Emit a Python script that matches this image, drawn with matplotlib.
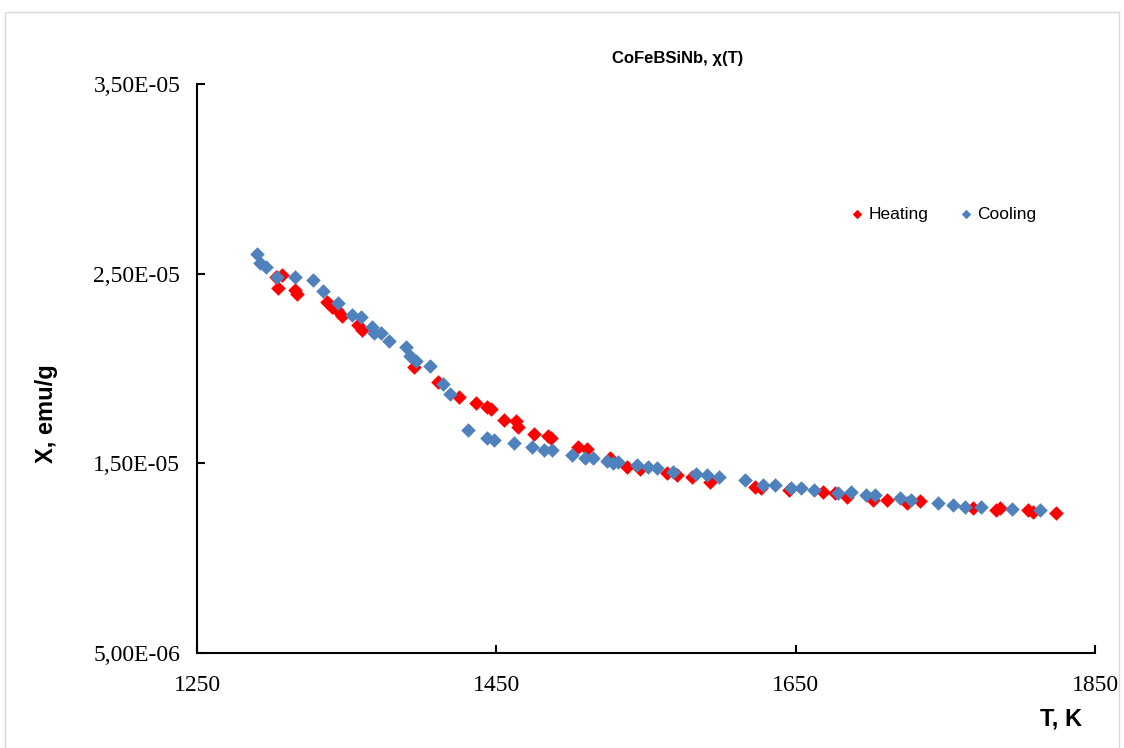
import matplotlib.pyplot as plt
from matplotlib.patches import Rectangle
from matplotlib.ticker import FuncFormatter

# heating run (red)
heat_T = [1302.8, 1306.8, 1304.1, 1315.5, 1316.8, 1336.9, 1340.2, 1343.5, 1346.9, 1357.6,
          1360.2, 1395.0, 1411.0, 1425.0, 1436.4, 1443.8, 1446.4, 1455.1, 1463.1, 1464.5,
          1475.2, 1484.5, 1486.5, 1504.6, 1510.6, 1525.9, 1537.3, 1546.0, 1564.0, 1570.7,
          1580.7, 1592.8, 1622.8, 1626.8, 1645.5, 1668.3, 1676.3, 1684.3, 1701.7, 1711.0,
          1724.4, 1733.1, 1768.5, 1783.8, 1786.5, 1805.2, 1808.6, 1823.9]
heat_chi = [2.482, 2.493, 2.424, 2.414, 2.393, 2.351, 2.324, 2.308, 2.277, 2.229,
            2.203, 2.008, 1.929, 1.850, 1.818, 1.797, 1.786, 1.728, 1.723, 1.692,
            1.655, 1.644, 1.634, 1.586, 1.576, 1.528, 1.481, 1.470, 1.449, 1.439,
            1.428, 1.402, 1.375, 1.370, 1.359, 1.349, 1.344, 1.323, 1.307, 1.307,
            1.291, 1.301, 1.265, 1.254, 1.265, 1.254, 1.243, 1.238]

# cooling run (blue)
cool_T = [1290.1, 1292.1, 1296.1, 1303.5, 1315.5, 1327.5, 1334.2, 1344.2, 1353.6, 1359.6,
          1366.9, 1368.3, 1372.9, 1378.3, 1389.6, 1392.3, 1396.3, 1405.7, 1414.4, 1419.0,
          1431.1, 1443.8, 1448.4, 1461.8, 1473.8, 1481.8, 1487.2, 1500.5, 1509.2, 1514.6,
          1523.9, 1527.9, 1531.3, 1544.0, 1551.3, 1557.3, 1568.0, 1583.4, 1590.8, 1598.8,
          1616.1, 1628.2, 1636.2, 1646.9, 1653.6, 1662.2, 1678.3, 1687.0, 1697.0, 1703.0,
          1719.7, 1727.0, 1745.1, 1755.1, 1763.1, 1773.8, 1794.5, 1813.2]
cool_chi = [2.604, 2.556, 2.535, 2.482, 2.482, 2.467, 2.409, 2.345, 2.282, 2.272,
            2.219, 2.187, 2.187, 2.145, 2.113, 2.066, 2.040, 2.013, 1.918, 1.866,
            1.676, 1.634, 1.623, 1.607, 1.586, 1.570, 1.570, 1.544, 1.528, 1.528,
            1.512, 1.502, 1.507, 1.491, 1.481, 1.475, 1.454, 1.444, 1.439, 1.428,
            1.412, 1.386, 1.386, 1.370, 1.370, 1.359, 1.344, 1.349, 1.333, 1.333,
            1.317, 1.307, 1.291, 1.280, 1.270, 1.270, 1.259, 1.254]

x_ticks = [1250, 1450, 1650, 1850]
y_ticks = [5e-6, 1.5e-5, 2.5e-5, 3.5e-5]

W, H = 1124, 748
fig = plt.figure(figsize=(W / 100, H / 100), dpi=100)

# light grey chart-area border
fig.patches.append(Rectangle((5 / W, -0.05), 1114 / W, 1 - 12 / H + 0.05,
                             transform=fig.transFigure, fill=False,
                             edgecolor="#D9D9D9", linewidth=1))

ax = fig.add_axes([197 / W, 1 - 653 / H, 898 / W, 569 / H])

ax.scatter(heat_T, [v * 1e-5 for v in heat_chi], marker="D", s=55,
           color="#FF0000", linewidths=0, label="Heating", zorder=3)
ax.scatter(cool_T, [v * 1e-5 for v in cool_chi], marker="D", s=55,
           color="#4F81BD", linewidths=0, label="Cooling", zorder=4)

ax.set_xlim(1250, 1850)
ax.set_ylim(5e-6, 3.5e-5)
ax.set_xticks(x_ticks)
ax.set_yticks(y_ticks)
ax.yaxis.set_major_formatter(FuncFormatter(lambda v, p: f"{v:.2E}".replace(".", ",")))

for s in ["top", "right"]:
    ax.spines[s].set_visible(False)
for s in ["left", "bottom"]:
    ax.spines[s].set_linewidth(1.5)
ax.tick_params(direction="in", length=6, width=1.5)
ax.tick_params(axis="x", pad=16)
ax.tick_params(axis="y", pad=12)
for lbl in ax.get_xticklabels() + ax.get_yticklabels():
    lbl.set_fontfamily("Liberation Serif")
    lbl.set_fontsize(17)

fig.text(678 / W, 1 - 59 / H, "CoFeBSiNb, χ(T)", ha="center", va="center",
         fontsize=12, fontweight="bold", family="Liberation Sans")
fig.text(46 / W, 1 - 414 / H, "X, emu/g", ha="center", va="center", rotation=90,
         fontsize=17, fontweight="bold", family="Liberation Sans")
fig.text(1082 / W, 1 - 719 / H, "T, K", ha="right", va="center",
         fontsize=17, fontweight="bold", family="Liberation Sans")

fig.legend(loc="center left", bbox_to_anchor=(850 / W, 1 - 214 / H), ncol=2,
           frameon=False, markerscale=0.65, handlelength=0.8, handletextpad=0.25,
           columnspacing=1.8, borderaxespad=0, borderpad=0,
           prop={"family": "Liberation Sans", "size": 12.5})

fig.savefig("out.png", dpi=100)
